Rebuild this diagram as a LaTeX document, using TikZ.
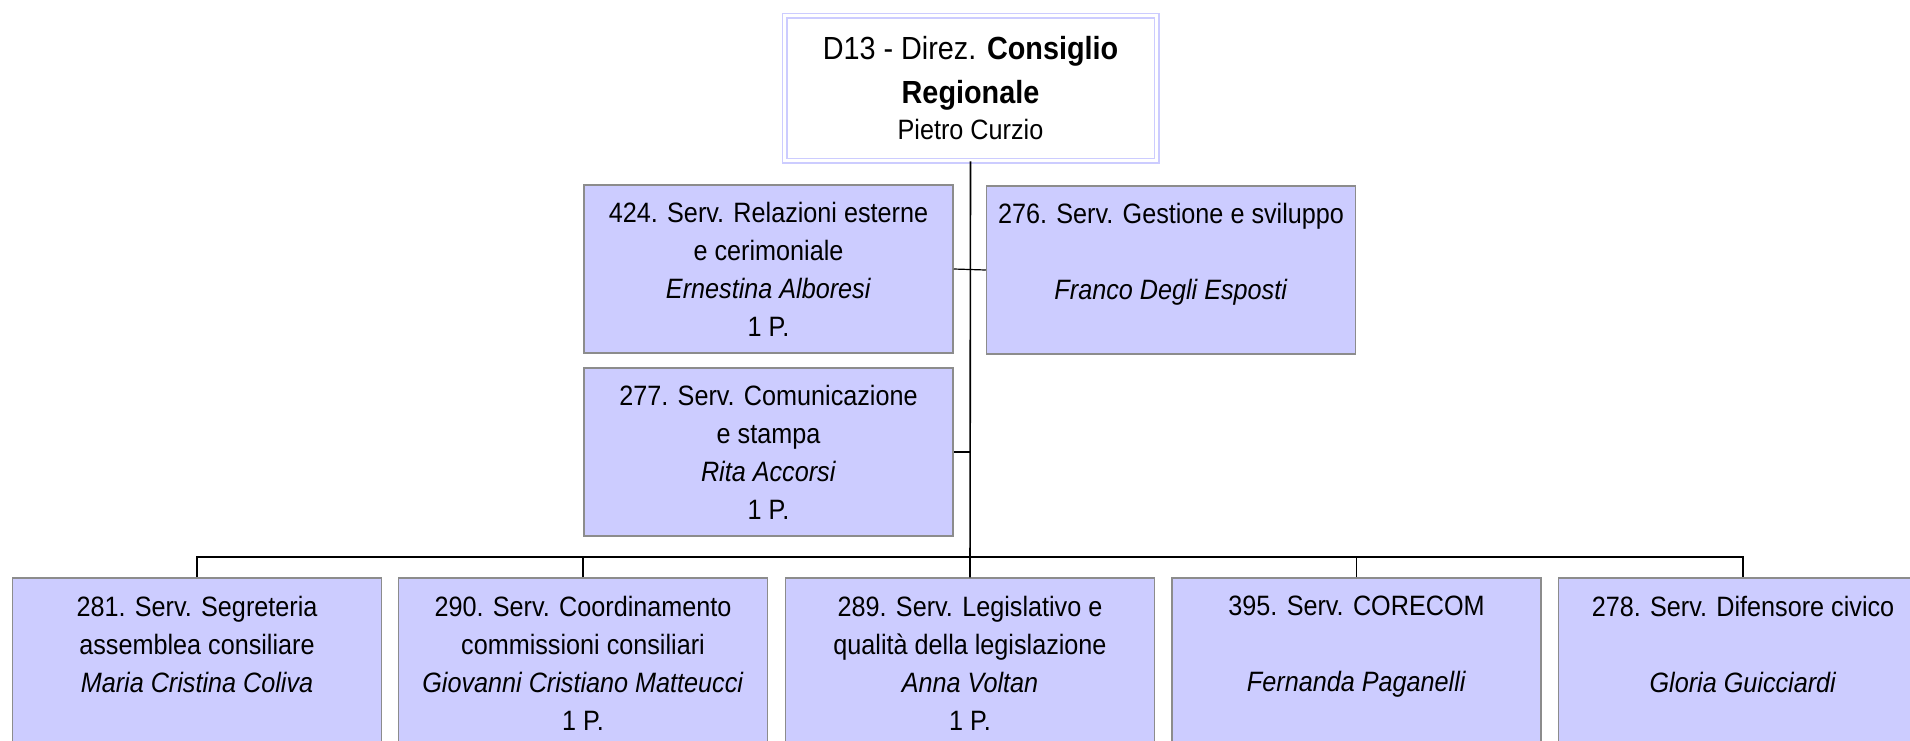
\documentclass[tikz,border=0pt]{standalone}
\usepackage{fontspec}
\setmainfont{Liberation Sans}[FakeStretch=0.9]
\definecolor{boxfill}{HTML}{CCCCFF}
\definecolor{boxline}{HTML}{8C8C8C}
\begin{document}
\begin{tikzpicture}[x=1pt,y=-1pt,
  unit/.style={draw=boxline, line width=1.5pt, fill=boxfill, minimum width=369pt,
    minimum height=168pt, align=center, inner sep=0pt, font=\fontsize{28}{38}\selectfont},
  headbox/.style={draw=boxfill, double=white, double distance=3pt, line width=1.5pt,
    fill=white, minimum width=372pt, minimum height=145pt, align=center, inner sep=0pt,
    font=\fontsize{32}{44}\selectfont},
  conn/.style={line width=1.6pt, black},
  thinconn/.style={line width=1.2pt, black}]
\useasboundingbox (0,0) rectangle (1910,740);
\clip (0,0) rectangle (1910,740);
\node[headbox] (top) at (970.5,88) {D13 - Direz. \textbf{Consiglio}\\ \textbf{Regionale}\\[-8pt] {\fontsize{28}{36}\selectfont Pietro Curzio}};

\node[unit] (s424) at (768.5,269) {424. Serv. Relazioni esterne\\ e cerimoniale\\ \textit{Ernestina Alboresi}\\ 1 P.};
\node[unit] (s276) at (1171,270) {276. Serv. Gestione e sviluppo\\ ~\\ \textit{Franco Degli Esposti}\\ ~};
\node[unit] (s277) at (768.5,452) {277. Serv. Comunicazione\\ e stampa\\ \textit{Rita Accorsi}\\ 1 P.};

\node[unit, minimum height=170pt] (s281) at (197,663) {281. Serv. Segreteria\\ assemblea consiliare\\ \textit{Maria Cristina Coliva}\\ ~};
\node[unit, minimum height=170pt] (s290) at (583,663) {290. Serv. Coordinamento\\ commissioni consiliari\\ \textit{Giovanni Cristiano Matteucci}\\ 1 P.};
\node[unit, minimum height=170pt] (s289) at (970,663) {289. Serv. Legislativo e\\ qualità della legislazione\\ \textit{Anna Voltan}\\ 1 P.};
\node[unit, minimum height=170pt] (s395) at (1356.5,663) {395. Serv. CORECOM\\ ~\\ \textit{Fernanda Paganelli}\\ ~};
\node[unit, minimum height=170pt] (s278) at (1743,663) {278. Serv. Difensore civico\\ ~\\ \textit{Gloria Guicciardi}\\ ~};

\coordinate (bus) at (970,557);
\draw[conn] (top.south) -- (s289.north);
\draw[thinconn] (s424.east) -- (s276.west);
\draw[thinconn] (s277.east) -- (s277.east -| top.south);
\draw[conn] (s281.north) |- (bus) -| (s278.north);
\foreach \n in {s290,s395} \draw[conn] (\n.north) -- (\n.north |- bus);
\end{tikzpicture}
\end{document}
